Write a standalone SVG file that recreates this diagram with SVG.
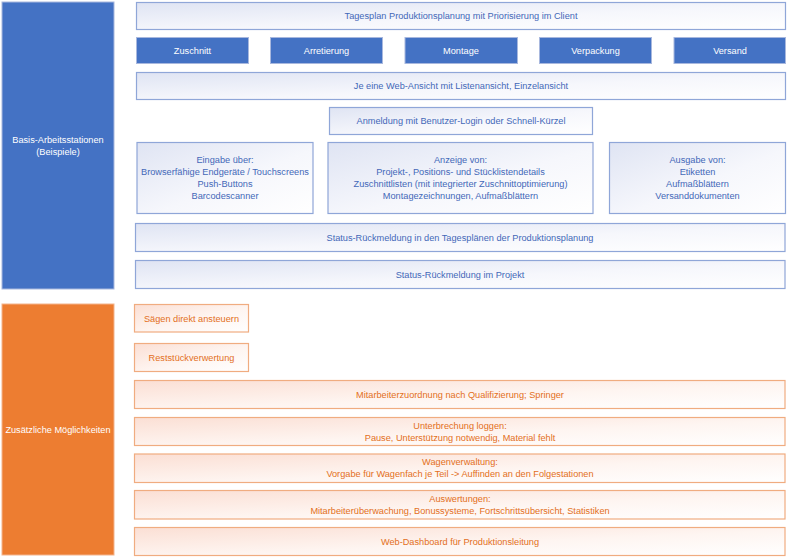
<svg xmlns="http://www.w3.org/2000/svg" width="788" height="557" viewBox="0 0 788 557">
<defs>
<linearGradient id="gb" x1="0" y1="0" x2="1" y2="1">
<stop offset="0" stop-color="#DFE4F3"/>
<stop offset="0.55" stop-color="#F6F7FC"/>
<stop offset="1" stop-color="#FFFFFF"/>
</linearGradient>
<linearGradient id="go" x1="0" y1="0" x2="1" y2="1">
<stop offset="0" stop-color="#FBDFD4"/>
<stop offset="0.55" stop-color="#FEF5F1"/>
<stop offset="1" stop-color="#FFFFFF"/>
</linearGradient>
<style>
text{font-family:"Liberation Sans",Arial,sans-serif;font-size:9.2px;text-anchor:middle;dominant-baseline:central}
.pb{fill:#4472C4;stroke:#A8B8DE;stroke-width:1}
.po{fill:#ED7D31;stroke:#F3B48C;stroke-width:1}
.pt{fill:#FFFFFF}
.bb{fill:#4472C4;stroke:#A8B8DE;stroke-width:1}
.lb{fill:url(#gb);stroke:#8FA6D8;stroke-width:1.2}
.lo{fill:url(#go);stroke:#F0AC80;stroke-width:1.2}
.tb{fill:#4368B8}
.to{fill:#E36F22}
</style>
</defs>
<rect width="788" height="557" fill="#FFFFFF"/>
<g id="panel-basis">
<rect class="pb" x="2" y="2" width="112" height="287"/>
<text class="pt" x="58" y="140">Basis-Arbeitsstationen</text>
<text class="pt" x="58" y="152">(Beispiele)</text>
</g>
<g id="panel-zusatz">
<rect class="po" x="2" y="304" width="112" height="251"/>
<text class="pt" x="58" y="430">Zusätzliche Möglichkeiten</text>
</g>
<g id="tagesplan">
<rect class="lb" x="136.5" y="2.5" width="649" height="27"/>
<text class="tb" x="461" y="15.5">Tagesplan Produktionsplanung mit Priorisierung im Client</text>
</g>
<g id="zuschnitt">
<rect class="bb" x="136.5" y="37.5" width="112" height="26"/>
<text class="pt" x="192.5" y="50.5">Zuschnitt</text>
</g>
<g id="arretierung">
<rect class="bb" x="270.5" y="37.5" width="112" height="26"/>
<text class="pt" x="326.5" y="50.5">Arretierung</text>
</g>
<g id="montage">
<rect class="bb" x="405" y="37.5" width="112.5" height="26"/>
<text class="pt" x="461" y="50.5">Montage</text>
</g>
<g id="verpackung">
<rect class="bb" x="539.5" y="37.5" width="112" height="26"/>
<text class="pt" x="595.5" y="50.5">Verpackung</text>
</g>
<g id="versand">
<rect class="bb" x="674" y="37.5" width="111.5" height="26"/>
<text class="pt" x="730" y="50.5">Versand</text>
</g>
<g id="webansicht">
<rect class="lb" x="136.5" y="72.5" width="649" height="27"/>
<text class="tb" x="461" y="86">Je eine Web-Ansicht mit Listenansicht, Einzelansicht</text>
</g>
<g id="anmeldung">
<rect class="lb" x="329.5" y="107.5" width="263" height="27"/>
<text class="tb" x="461" y="121">Anmeldung mit Benutzer-Login oder Schnell-Kürzel</text>
</g>
<g id="eingabe">
<rect class="lb" x="137" y="142.5" width="176" height="71"/>
<text class="tb" x="225" y="160">Eingabe über:</text>
<text class="tb" x="225" y="172">Browserfähige Endgeräte / Touchscreens</text>
<text class="tb" x="225" y="184">Push-Buttons</text>
<text class="tb" x="225" y="196">Barcodescanner</text>
</g>
<g id="anzeige">
<rect class="lb" x="328" y="142.5" width="265" height="71"/>
<text class="tb" x="460.5" y="160">Anzeige von:</text>
<text class="tb" x="460.5" y="172">Projekt-, Positions- und Stücklistendetails</text>
<text class="tb" x="460.5" y="184">Zuschnittlisten (mit integrierter Zuschnittoptimierung)</text>
<text class="tb" x="460.5" y="196">Montagezeichnungen, Aufmaßblättern</text>
</g>
<g id="ausgabe">
<rect class="lb" x="609.5" y="142.5" width="176" height="71"/>
<text class="tb" x="697.5" y="160">Ausgabe von:</text>
<text class="tb" x="697.5" y="172">Etiketten</text>
<text class="tb" x="697.5" y="184">Aufmaßblättern</text>
<text class="tb" x="697.5" y="196">Versanddokumenten</text>
</g>
<g id="status-tagesplan">
<rect class="lb" x="135.5" y="223.5" width="649.5" height="28"/>
<text class="tb" x="460" y="237.5">Status-Rückmeldung in den Tagesplänen der Produktionsplanung</text>
</g>
<g id="status-projekt">
<rect class="lb" x="135.5" y="260.5" width="649.5" height="28"/>
<text class="tb" x="460" y="274.5">Status-Rückmeldung im Projekt</text>
</g>
<g id="saegen">
<rect class="lo" x="134.5" y="304.5" width="114" height="27.5"/>
<text class="to" x="191.5" y="318.5">Sägen direkt ansteuern</text>
</g>
<g id="reststueck">
<rect class="lo" x="134.5" y="343.5" width="114" height="28"/>
<text class="to" x="191.5" y="357.5">Reststückverwertung</text>
</g>
<g id="mitarbeiterzuordnung">
<rect class="lo" x="134.5" y="380.5" width="650.5" height="28"/>
<text class="to" x="460" y="394.5">Mitarbeiterzuordnung nach Qualifizierung; Springer</text>
</g>
<g id="unterbrechung">
<rect class="lo" x="134.5" y="417.5" width="650.5" height="28"/>
<text class="to" x="460" y="425.5">Unterbrechung loggen:</text>
<text class="to" x="460" y="437.5">Pause, Unterstützung notwendig, Material fehlt</text>
</g>
<g id="wagenverwaltung">
<rect class="lo" x="134.5" y="454" width="650.5" height="28.5"/>
<text class="to" x="460" y="462">Wagenverwaltung:</text>
<text class="to" x="460" y="474">Vorgabe für Wagenfach je Teil -&gt; Auffinden an den Folgestationen</text>
</g>
<g id="auswertungen">
<rect class="lo" x="134.5" y="490.5" width="650.5" height="28.5"/>
<text class="to" x="460" y="498.5">Auswertungen:</text>
<text class="to" x="460" y="510.5">Mitarbeiterüberwachung, Bonussysteme, Fortschrittsübersicht, Statistiken</text>
</g>
<g id="webdashboard">
<rect class="lo" x="134.5" y="527.5" width="650.5" height="28"/>
<text class="to" x="460" y="541.5">Web-Dashboard für Produktionsleitung</text>
</g>
<g id="connectors"></g>
</svg>
